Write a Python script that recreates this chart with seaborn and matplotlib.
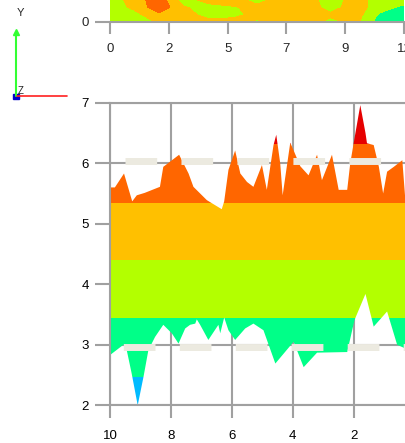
import numpy as np
import matplotlib
matplotlib.use("Agg")
import matplotlib.pyplot as plt
from matplotlib.patches import Polygon, Rectangle
from matplotlib.lines import Line2D
import seaborn as sns

# colour levels shared by both panels
levels = [1.5, 2.47, 3.44, 4.40, 5.35, 6.31, 7.5]
level_colors = ["#00BBFF", "#00FF88", "#B3FF00", "#FFC000", "#FF6600", "#E60000"]

# upper edge of the band (x runs from 10 down to 0)
x_up = [10.0, 9.97, 9.84, 9.54, 9.27, 9.12, 8.86, 8.36, 8.25, 7.73, 7.42, 7.26,
        6.82, 6.33, 6.25, 6.11, 5.89, 5.72, 5.50, 5.29, 5.01, 4.85, 4.63, 4.54,
        4.41, 4.33, 4.08, 3.91, 3.75, 3.48, 3.20, 3.04, 2.71, 2.49, 2.21, 2.11,
        1.94, 1.78, 1.61, 1.56, 1.34, 1.17, 1.03, 0.90, 0.68, 0.40, 0.30, 0.0]
y_up = [5.80, 5.60, 5.60, 5.83, 5.37, 5.47, 5.51, 5.61, 5.94, 6.14, 5.83, 5.61,
        5.39, 5.24, 5.37, 5.89, 6.21, 5.83, 5.69, 5.61, 5.97, 5.56, 6.30, 6.47,
        6.00, 5.47, 6.34, 6.14, 5.95, 5.80, 6.14, 5.72, 6.14, 5.56, 5.56, 6.00,
        6.50, 6.96, 6.50, 6.33, 6.30, 5.94, 5.50, 5.86, 5.94, 6.05, 5.39, 5.60]

# lower edge of the band
x_lo = [10.0, 9.56, 9.45, 9.29, 9.09, 8.90, 8.74, 8.52, 8.25, 7.97, 7.75, 7.53,
        7.37, 7.20, 7.15, 7.04, 6.77, 6.44, 6.38, 6.25, 6.11, 5.89, 5.56, 5.29,
        4.96, 4.57, 3.97, 3.64, 3.20, 2.21, 1.97, 1.61, 1.34, 0.90, 0.57, 0.35, 0.0]
y_lo = [2.83, 3.00, 2.91, 2.53, 2.00, 2.47, 2.91, 3.13, 3.33, 3.19, 3.02, 3.27,
        3.33, 3.35, 3.42, 3.33, 3.08, 3.33, 3.19, 3.45, 3.24, 3.08, 3.27, 3.35,
        3.24, 2.69, 3.05, 2.63, 2.87, 2.88, 3.41, 3.84, 3.30, 3.55, 3.00, 2.95, 2.90]

dash_levels = [6.04, 2.965]
dash_offsets = [29.5, 30.7]

# top strip (partially visible contour map)
x_top = [0, 1, 2, 3, 4, 5, 6, 7, 8, 9, 10, 11, 12]
y_top = [0, 1, 2, 3]
z_top = [
    [3.9, 3.9, 4.5, 4.6, 4.8, 4.9, 4.2, 4.9, 4.9, 4.1, 4.7, 3.0, 3.0],
    [3.9, 4.1, 5.1, 4.9, 4.0, 4.0, 4.8, 4.9, 4.9, 4.6, 4.9, 3.3, 3.0],
    [3.9, 4.6, 6.0, 4.5, 4.0, 4.3, 4.7, 4.9, 5.0, 4.0, 4.9, 3.9, 3.2],
    [3.9, 4.8, 6.0, 3.9, 4.8, 4.9, 4.0, 4.9, 5.0, 3.8, 4.9, 3.9, 3.9],
]
top_ticks = [0, 2.4, 4.8, 7.2, 9.6, 12]
top_labels = ["0", "2", "5", "7", "9", "12"]

sns.set_theme(style="white")
plt.rcParams["font.family"] = ["Liberation Sans", "DejaVu Sans"]
plt.rcParams["lines.scale_dashes"] = False

W, H = 406, 443
GRID = "#A0A0A0"
fig = plt.figure(figsize=(W / 100, H / 100), dpi=100)

def px_rect(x0, y0, x1, y1):
    return [x0 / W, 1 - y1 / H, (x1 - x0) / W, (y1 - y0) / H]

# ---- main band chart ----
ax = fig.add_axes(px_rect(110, 102.7, 414.5, 405.3))
ax.set_xlim(10, 0)
ax.set_ylim(2, 7)
ax.set_axisbelow(True)
ax.grid(True, color=GRID, lw=1.5)
for s in ["left", "bottom", "top"]:
    ax.spines[s].set_color(GRID)
    ax.spines[s].set_linewidth(1.5)
ax.spines["right"].set_visible(False)
ax.set_xticks([10, 8, 6, 4, 2, 0])
ax.set_yticks([2, 3, 4, 5, 6, 7])
ax.tick_params(axis="x", length=9.5, width=1.5, color=GRID, pad=8.5, labelsize=9.5, labelcolor="black")
ax.tick_params(axis="y", length=10.5, width=1.5, color=GRID, pad=4.8, labelsize=9.5, labelcolor="black")
ax.tick_params(bottom=True, left=True)

band = Polygon(np.column_stack([np.r_[x_up, x_lo[::-1]], np.r_[y_up, y_lo[::-1]]]),
               closed=True, facecolor="none", edgecolor="none", transform=ax.transData)
ax.add_patch(band)
for lo, hi, c in zip(levels[:-1], levels[1:], level_colors):
    span = ax.axhspan(lo, hi, color=c, lw=0, zorder=2)
    span.set_clip_path(band)

for yv, off in zip(dash_levels, dash_offsets):
    ax.axhline(yv, color="#ECEAE0", lw=5, zorder=3,
               linestyle=(off, (22.8, 17.5)), dash_capstyle="butt")

# ---- top strip ----
axt = fig.add_axes(px_rect(110, 0, 404, 22))
axt.contourf(x_top, y_top, z_top, levels=levels, colors=level_colors)
axt.set_xlim(0, 12)
axt.set_ylim(0, 3)
for s in ["left", "right", "top"]:
    axt.spines[s].set_visible(False)
axt.spines["bottom"].set_color(GRID)
axt.spines["bottom"].set_linewidth(1.5)
axt.set_xticks(top_ticks, top_labels)
axt.set_yticks([0], ["0"])
axt.tick_params(axis="x", length=8.6, width=1.5, color=GRID, pad=6.3, labelsize=9.5)
axt.tick_params(axis="y", length=10.5, width=1.5, color=GRID, pad=4.8, labelsize=9.5)
axt.tick_params(bottom=True, left=True)

# ---- axis triad on the left ----
def fx(p):
    return p / W

def fy(p):
    return 1 - p / H

fig.add_artist(Line2D([fx(16), fx(16)], [fy(96), fy(33)], color="#33FF33", lw=1.5))
fig.add_artist(Line2D([fx(16)], [fy(32)], marker="^", ms=5, color="#33FF33", lw=0))
fig.add_artist(Line2D([fx(17), fx(67)], [fy(96), fy(96)], color="#FF2020", lw=1.2))
fig.add_artist(Rectangle((fx(13), fy(99)), 6 / W, 5 / H, color="#0000CC",
                         transform=fig.transFigure))
fig.text(fx(20), fy(13), "Y", fontsize=8, ha="center", va="center")
fig.text(fx(21), fy(91), "Z", fontsize=7, ha="center", va="center")

fig.savefig("out.png", dpi=100)
